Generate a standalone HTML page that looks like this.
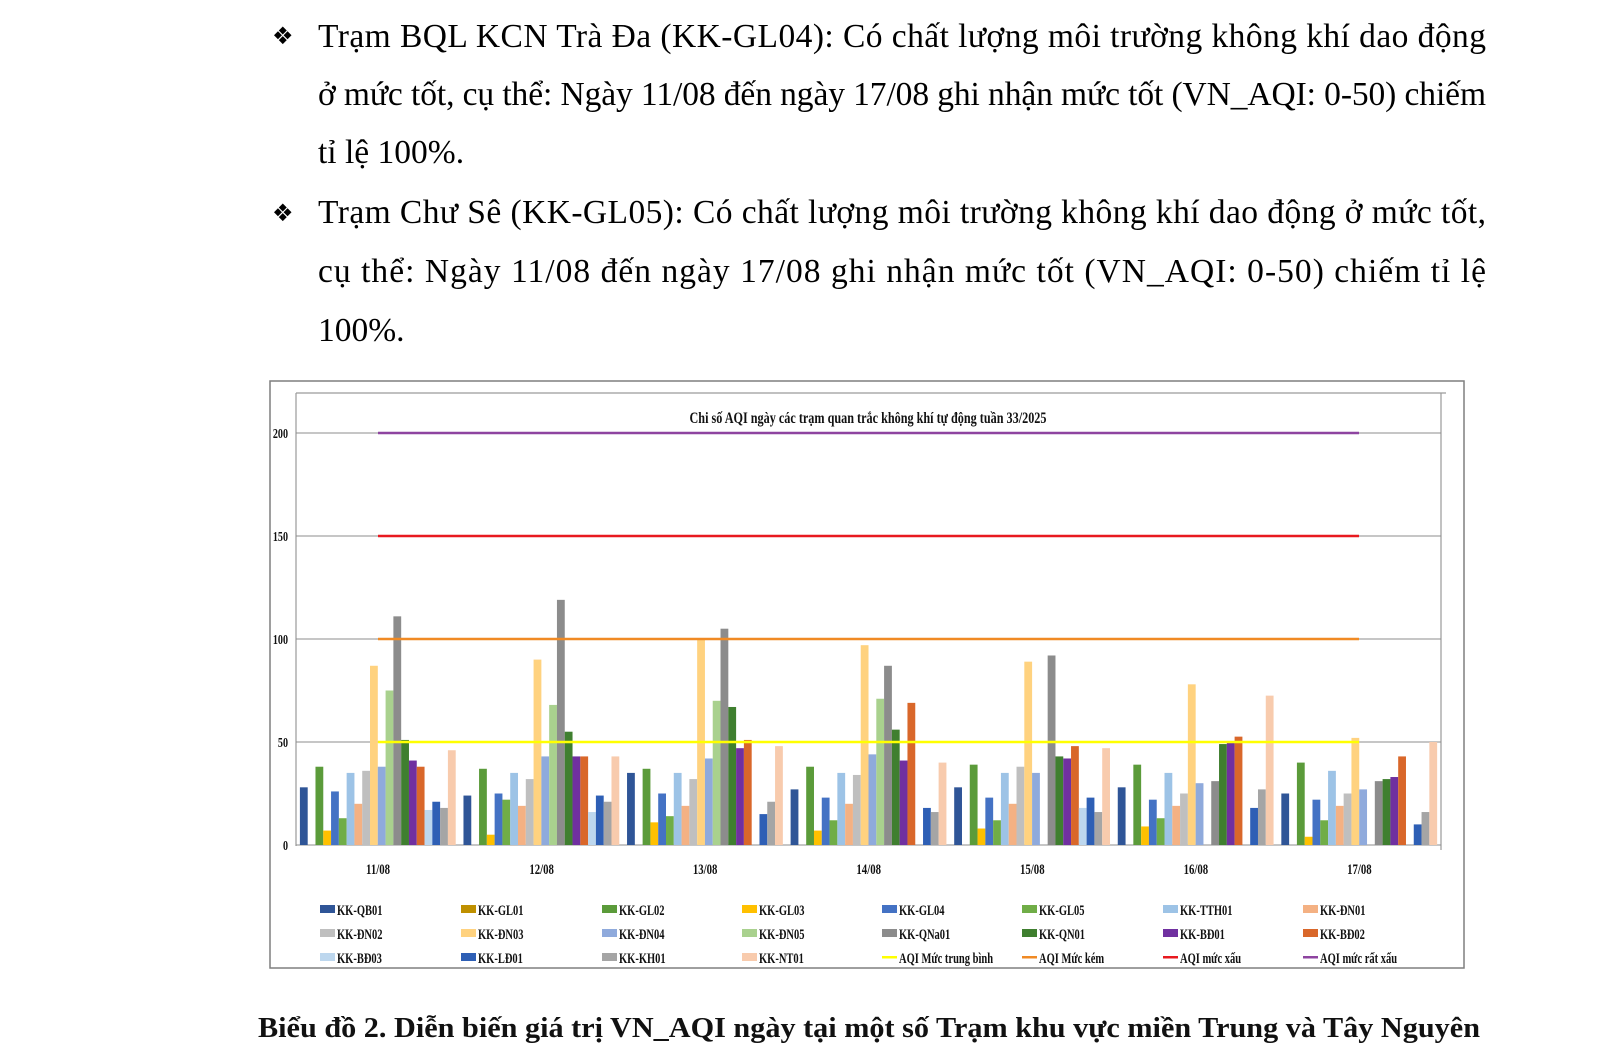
<!DOCTYPE html>
<html><head><meta charset="utf-8">
<style>
html,body{margin:0;padding:0;background:#fff;}
svg{display:block;}
.t{font-family:"Liberation Serif",serif;font-size:33.5px;fill:#000;}
.b{font-family:"Liberation Serif",serif;font-weight:bold;fill:#111;}
.c0{fill:#2F5597}.c1{fill:#BF9000}.c2{fill:#5B9B3A}.c3{fill:#FFC000}.c4{fill:#4472C4}
.c5{fill:#70AD47}.c6{fill:#9DC3E6}.c7{fill:#F4B183}.c8{fill:#BFBFBF}.c9{fill:#FFD27F}
.c10{fill:#8FAADC}.c11{fill:#A9D18E}.c12{fill:#8C8C8C}.c13{fill:#3F7F2F}.c14{fill:#7030A0}
.c15{fill:#D9672A}.c16{fill:#BDD7EE}.c17{fill:#2E5FB5}.c18{fill:#A5A5A5}.c19{fill:#F8CBAD}
</style></head><body>
<svg width="1600" height="1064" viewBox="0 0 1600 1064" xmlns="http://www.w3.org/2000/svg">
<rect width="1600" height="1064" fill="#fff"/>
<text x="272" y="44" font-family="DejaVu Sans,sans-serif" font-size="24">❖</text>
<text class="t" x="318" y="47" textLength="1168" lengthAdjust="spacing">Trạm BQL KCN Trà Đa (KK-GL04): Có chất lượng môi trường không khí dao động</text>
<text class="t" x="318" y="105" textLength="1168" lengthAdjust="spacing">ở mức tốt, cụ thể: Ngày 11/08 đến ngày 17/08 ghi nhận mức tốt (VN_AQI: 0-50) chiếm</text>
<text class="t" x="318" y="163">tỉ lệ 100%.</text>
<text x="272" y="221" font-family="DejaVu Sans,sans-serif" font-size="24">❖</text>
<text class="t" x="318" y="223" textLength="1168" lengthAdjust="spacing">Trạm Chư Sê (KK-GL05): Có chất lượng môi trường không khí dao động ở mức tốt,</text>
<text class="t" x="318" y="282" textLength="1168" lengthAdjust="spacing">cụ thể: Ngày 11/08 đến ngày 17/08 ghi nhận mức tốt (VN_AQI: 0-50) chiếm tỉ lệ</text>
<text class="t" x="318" y="341">100%.</text>

<rect x="270" y="381" width="1194" height="587" fill="none" stroke="#7f7f7f" stroke-width="1.5"/>
<line x1="296" y1="393" x2="1446" y2="393" stroke="#9a9a9a" stroke-width="1.2"/>
<line x1="296" y1="393" x2="296" y2="846" stroke="#9a9a9a" stroke-width="1.2"/>
<line x1="1441" y1="393" x2="1441" y2="850" stroke="#9a9a9a" stroke-width="1.2"/>
<text class="b" x="868" y="423" font-size="16" text-anchor="middle" textLength="357" lengthAdjust="spacingAndGlyphs">Chi số AQI ngày các trạm quan trắc không khí tự động tuần 33/2025</text>
<g stroke="#8c8c8c" stroke-width="1">
<line x1="296" y1="433" x2="1441" y2="433"/>
<line x1="296" y1="536" x2="1441" y2="536"/>
<line x1="296" y1="639" x2="1441" y2="639"/>
<line x1="296" y1="742" x2="1441" y2="742"/>
<line x1="296" y1="845" x2="1441" y2="845"/>
</g>
<g class="b" font-size="14">
<text transform="translate(288,438) scale(0.72,1)" text-anchor="end">200</text>
<text transform="translate(288,541) scale(0.72,1)" text-anchor="end">150</text>
<text transform="translate(288,644) scale(0.72,1)" text-anchor="end">100</text>
<text transform="translate(288,747) scale(0.72,1)" text-anchor="end">50</text>
<text transform="translate(288,850) scale(0.72,1)" text-anchor="end">0</text>
</g>
<g transform="translate(296,845) scale(1,-2.06)">
<rect class="c0" x="3.9" width="7.8" height="28"/><rect class="c2" x="19.48" width="7.8" height="38"/><rect class="c3" x="27.27" width="7.8" height="7"/><rect class="c4" x="35.06" width="7.8" height="26"/><rect class="c5" x="42.85" width="7.8" height="13"/><rect class="c6" x="50.64" width="7.8" height="35"/><rect class="c7" x="58.43" width="7.8" height="20"/><rect class="c8" x="66.22" width="7.8" height="36"/><rect class="c9" x="74.01" width="7.8" height="87"/><rect class="c10" x="81.8" width="7.8" height="38"/><rect class="c11" x="89.59" width="7.8" height="75"/><rect class="c12" x="97.38" width="7.8" height="111"/><rect class="c13" x="105.17" width="7.8" height="51"/><rect class="c14" x="112.96" width="7.8" height="41"/><rect class="c15" x="120.75" width="7.8" height="38"/><rect class="c16" x="128.54" width="7.8" height="17"/><rect class="c17" x="136.33" width="7.8" height="21"/><rect class="c18" x="144.12" width="7.8" height="18"/><rect class="c19" x="151.91" width="7.8" height="46"/>
</g>
<g transform="translate(459.57,845) scale(1,-2.06)">
<rect class="c0" x="3.9" width="7.8" height="24"/><rect class="c2" x="19.48" width="7.8" height="37"/><rect class="c3" x="27.27" width="7.8" height="5"/><rect class="c4" x="35.06" width="7.8" height="25"/><rect class="c5" x="42.85" width="7.8" height="22"/><rect class="c6" x="50.64" width="7.8" height="35"/><rect class="c7" x="58.43" width="7.8" height="19"/><rect class="c8" x="66.22" width="7.8" height="32"/><rect class="c9" x="74.01" width="7.8" height="90"/><rect class="c10" x="81.8" width="7.8" height="43"/><rect class="c11" x="89.59" width="7.8" height="68"/><rect class="c12" x="97.38" width="7.8" height="119"/><rect class="c13" x="105.17" width="7.8" height="55"/><rect class="c14" x="112.96" width="7.8" height="43"/><rect class="c15" x="120.75" width="7.8" height="43"/><rect class="c16" x="128.54" width="7.8" height="16"/><rect class="c17" x="136.33" width="7.8" height="24"/><rect class="c18" x="144.12" width="7.8" height="21"/><rect class="c19" x="151.91" width="7.8" height="43"/>
</g>
<g transform="translate(623.14,845) scale(1,-2.06)">
<rect class="c0" x="3.9" width="7.8" height="35"/><rect class="c2" x="19.48" width="7.8" height="37"/><rect class="c3" x="27.27" width="7.8" height="11"/><rect class="c4" x="35.06" width="7.8" height="25"/><rect class="c5" x="42.85" width="7.8" height="14"/><rect class="c6" x="50.64" width="7.8" height="35"/><rect class="c7" x="58.43" width="7.8" height="19"/><rect class="c8" x="66.22" width="7.8" height="32"/><rect class="c9" x="74.01" width="7.8" height="100"/><rect class="c10" x="81.8" width="7.8" height="42"/><rect class="c11" x="89.59" width="7.8" height="70"/><rect class="c12" x="97.38" width="7.8" height="105"/><rect class="c13" x="105.17" width="7.8" height="67"/><rect class="c14" x="112.96" width="7.8" height="47"/><rect class="c15" x="120.75" width="7.8" height="51"/><rect class="c17" x="136.33" width="7.8" height="15"/><rect class="c18" x="144.12" width="7.8" height="21"/><rect class="c19" x="151.91" width="7.8" height="48"/>
</g>
<g transform="translate(786.71,845) scale(1,-2.06)">
<rect class="c0" x="3.9" width="7.8" height="27"/><rect class="c2" x="19.48" width="7.8" height="38"/><rect class="c3" x="27.27" width="7.8" height="7"/><rect class="c4" x="35.06" width="7.8" height="23"/><rect class="c5" x="42.85" width="7.8" height="12"/><rect class="c6" x="50.64" width="7.8" height="35"/><rect class="c7" x="58.43" width="7.8" height="20"/><rect class="c8" x="66.22" width="7.8" height="34"/><rect class="c9" x="74.01" width="7.8" height="97"/><rect class="c10" x="81.8" width="7.8" height="44"/><rect class="c11" x="89.59" width="7.8" height="71"/><rect class="c12" x="97.38" width="7.8" height="87"/><rect class="c13" x="105.17" width="7.8" height="56"/><rect class="c14" x="112.96" width="7.8" height="41"/><rect class="c15" x="120.75" width="7.8" height="69"/><rect class="c17" x="136.33" width="7.8" height="18"/><rect class="c18" x="144.12" width="7.8" height="16"/><rect class="c19" x="151.91" width="7.8" height="40"/>
</g>
<g transform="translate(950.29,845) scale(1,-2.06)">
<rect class="c0" x="3.9" width="7.8" height="28"/><rect class="c2" x="19.48" width="7.8" height="39"/><rect class="c3" x="27.27" width="7.8" height="8"/><rect class="c4" x="35.06" width="7.8" height="23"/><rect class="c5" x="42.85" width="7.8" height="12"/><rect class="c6" x="50.64" width="7.8" height="35"/><rect class="c7" x="58.43" width="7.8" height="20"/><rect class="c8" x="66.22" width="7.8" height="38"/><rect class="c9" x="74.01" width="7.8" height="89"/><rect class="c10" x="81.8" width="7.8" height="35"/><rect class="c12" x="97.38" width="7.8" height="92"/><rect class="c13" x="105.17" width="7.8" height="43"/><rect class="c14" x="112.96" width="7.8" height="42"/><rect class="c15" x="120.75" width="7.8" height="48"/><rect class="c16" x="128.54" width="7.8" height="18"/><rect class="c17" x="136.33" width="7.8" height="23"/><rect class="c18" x="144.12" width="7.8" height="16"/><rect class="c19" x="151.91" width="7.8" height="47"/>
</g>
<g transform="translate(1113.86,845) scale(1,-2.06)">
<rect class="c0" x="3.9" width="7.8" height="28"/><rect class="c2" x="19.48" width="7.8" height="39"/><rect class="c3" x="27.27" width="7.8" height="9"/><rect class="c4" x="35.06" width="7.8" height="22"/><rect class="c5" x="42.85" width="7.8" height="13"/><rect class="c6" x="50.64" width="7.8" height="35"/><rect class="c7" x="58.43" width="7.8" height="19"/><rect class="c8" x="66.22" width="7.8" height="25"/><rect class="c9" x="74.01" width="7.8" height="78"/><rect class="c10" x="81.8" width="7.8" height="30"/><rect class="c12" x="97.38" width="7.8" height="31"/><rect class="c13" x="105.17" width="7.8" height="49"/><rect class="c14" x="112.96" width="7.8" height="50.5"/><rect class="c15" x="120.75" width="7.8" height="52.6"/><rect class="c17" x="136.33" width="7.8" height="18"/><rect class="c18" x="144.12" width="7.8" height="27"/><rect class="c19" x="151.91" width="7.8" height="72.5"/>
</g>
<g transform="translate(1277.43,845) scale(1,-2.06)">
<rect class="c0" x="3.9" width="7.8" height="25"/><rect class="c2" x="19.48" width="7.8" height="40"/><rect class="c3" x="27.27" width="7.8" height="4"/><rect class="c4" x="35.06" width="7.8" height="22"/><rect class="c5" x="42.85" width="7.8" height="12"/><rect class="c6" x="50.64" width="7.8" height="36"/><rect class="c7" x="58.43" width="7.8" height="19"/><rect class="c8" x="66.22" width="7.8" height="25"/><rect class="c9" x="74.01" width="7.8" height="52"/><rect class="c10" x="81.8" width="7.8" height="27"/><rect class="c12" x="97.38" width="7.8" height="31"/><rect class="c13" x="105.17" width="7.8" height="32"/><rect class="c14" x="112.96" width="7.8" height="33"/><rect class="c15" x="120.75" width="7.8" height="43"/><rect class="c17" x="136.33" width="7.8" height="10"/><rect class="c18" x="144.12" width="7.8" height="16"/><rect class="c19" x="151.91" width="7.8" height="50"/>
</g>
<line x1="378" y1="742" x2="1359" y2="742" stroke="#FFFF00" stroke-width="2.5"/>
<line x1="378" y1="639" x2="1359" y2="639" stroke="#F08A24" stroke-width="2.5"/>
<line x1="378" y1="536" x2="1359" y2="536" stroke="#E8191F" stroke-width="2.5"/>
<line x1="378" y1="433" x2="1359" y2="433" stroke="#8E44A0" stroke-width="2.5"/>
<g class="b" font-size="15" text-anchor="middle">
<text transform="translate(378,874) scale(0.72,1)">11/08</text>
<text transform="translate(541.6,874) scale(0.72,1)">12/08</text>
<text transform="translate(705.1,874) scale(0.72,1)">13/08</text>
<text transform="translate(868.7,874) scale(0.72,1)">14/08</text>
<text transform="translate(1032.3,874) scale(0.72,1)">15/08</text>
<text transform="translate(1195.9,874) scale(0.72,1)">16/08</text>
<text transform="translate(1359.4,874) scale(0.72,1)">17/08</text>
</g>
<g class="b" font-size="15">
<rect class="c0" x="320" y="905" width="15" height="8"/><text transform="translate(337,915) scale(0.7,1)">KK-QB01</text>
<rect class="c1" x="461" y="905" width="15" height="8"/><text transform="translate(478,915) scale(0.7,1)">KK-GL01</text>
<rect class="c2" x="602" y="905" width="15" height="8"/><text transform="translate(619,915) scale(0.7,1)">KK-GL02</text>
<rect class="c3" x="742" y="905" width="15" height="8"/><text transform="translate(759,915) scale(0.7,1)">KK-GL03</text>
<rect class="c4" x="882" y="905" width="15" height="8"/><text transform="translate(899,915) scale(0.7,1)">KK-GL04</text>
<rect class="c5" x="1022" y="905" width="15" height="8"/><text transform="translate(1039,915) scale(0.7,1)">KK-GL05</text>
<rect class="c6" x="1163" y="905" width="15" height="8"/><text transform="translate(1180,915) scale(0.7,1)">KK-TTH01</text>
<rect class="c7" x="1303" y="905" width="15" height="8"/><text transform="translate(1320,915) scale(0.7,1)">KK-ĐN01</text>

<rect class="c8" x="320" y="929" width="15" height="8"/><text transform="translate(337,939) scale(0.7,1)">KK-ĐN02</text>
<rect class="c9" x="461" y="929" width="15" height="8"/><text transform="translate(478,939) scale(0.7,1)">KK-ĐN03</text>
<rect class="c10" x="602" y="929" width="15" height="8"/><text transform="translate(619,939) scale(0.7,1)">KK-ĐN04</text>
<rect class="c11" x="742" y="929" width="15" height="8"/><text transform="translate(759,939) scale(0.7,1)">KK-ĐN05</text>
<rect class="c12" x="882" y="929" width="15" height="8"/><text transform="translate(899,939) scale(0.7,1)">KK-QNa01</text>
<rect class="c13" x="1022" y="929" width="15" height="8"/><text transform="translate(1039,939) scale(0.7,1)">KK-QN01</text>
<rect class="c14" x="1163" y="929" width="15" height="8"/><text transform="translate(1180,939) scale(0.7,1)">KK-BĐ01</text>
<rect class="c15" x="1303" y="929" width="15" height="8"/><text transform="translate(1320,939) scale(0.7,1)">KK-BĐ02</text>

<rect class="c16" x="320" y="953" width="15" height="8"/><text transform="translate(337,963) scale(0.7,1)">KK-BĐ03</text>
<rect class="c17" x="461" y="953" width="15" height="8"/><text transform="translate(478,963) scale(0.7,1)">KK-LĐ01</text>
<rect class="c18" x="602" y="953" width="15" height="8"/><text transform="translate(619,963) scale(0.7,1)">KK-KH01</text>
<rect class="c19" x="742" y="953" width="15" height="8"/><text transform="translate(759,963) scale(0.7,1)">KK-NT01</text>
<rect x="882" y="956" width="15" height="2.5" fill="#FFFF00"/><text transform="translate(899,963) scale(0.7,1)">AQI Mức trung bình</text>
<rect x="1022" y="956" width="15" height="2.5" fill="#F08A24"/><text transform="translate(1039,963) scale(0.7,1)">AQI Mức kém</text>
<rect x="1163" y="956" width="15" height="2.5" fill="#E8191F"/><text transform="translate(1180,963) scale(0.7,1)">AQI mức xấu</text>
<rect x="1303" y="956" width="15" height="2.5" fill="#8E44A0"/><text transform="translate(1320,963) scale(0.7,1)">AQI mức rất xấu</text>
</g>
<text class="b" x="258" y="1037" font-size="29" textLength="1222" lengthAdjust="spacingAndGlyphs">Biểu đồ 2. Diễn biến giá trị VN_AQI ngày tại một số Trạm khu vực miền Trung và Tây Nguyên</text>
</svg>
</body></html>
